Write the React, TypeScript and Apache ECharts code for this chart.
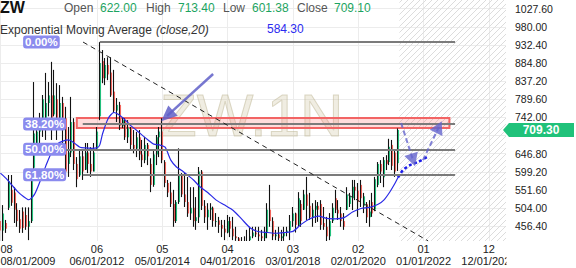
import React, { useEffect, useRef } from 'react';
import * as echarts from 'echarts';

const FONT = '"Liberation Sans", Arial, sans-serif';

const symbolName = 'ZW';
const watermarkText = 'ZW.1N';
const indicatorName = 'Exponential Moving Average';
const indicatorParams = '(close,20)';

// monthly bars, index 0 = 08/2009
const opens = [
  470, 445, 465, 505, 552, 545, 500, 475, 495, 486,
  455, 470, 610, 665, 705, 730, 725, 780, 800, 750,
  790, 720, 780, 740, 620, 650, 730, 620, 590, 640,
  605, 650, 620, 600, 660, 745, 890, 845, 880, 860,
  810, 760, 775, 720, 735, 690, 715, 670, 660, 690,
  645, 630, 670, 620, 565, 645, 690, 705, 625, 570,
  545, 515, 470, 520, 590, 540, 520, 490, 505, 470,
  480, 600, 510, 480, 500, 505, 470, 472, 460, 450,
  440, 470, 450, 430, 425, 410, 405, 415, 420, 430,
  440, 435, 430, 425, 440, 500, 470, 430, 435, 425,
  430, 440, 445, 470, 490, 460, 515, 500, 540, 510,
  480, 500, 510, 515, 465, 455, 430, 470, 530, 500,
  490, 470, 500, 515, 530, 560, 550, 565, 510, 515,
  480, 520, 500, 565, 620, 585, 630, 625, 670, 650,
  622.0,
];
const highs = [
  552, 512, 473, 591, 591, 559, 517, 499, 506, 506,
  506, 604, 835, 735, 754, 801, 859, 835, 888, 867,
  832, 827, 796, 770, 717, 796, 740, 638, 657, 657,
  675, 675, 664, 675, 717, 940, 919, 898, 900, 900,
  867, 793, 783, 743, 740, 735, 717, 709, 704, 709,
  683, 691, 675, 635, 657, 696, 717, 740, 630, 578,
  573, 552, 525, 661, 596, 596, 586, 559, 559, 533,
  612, 604, 525, 517, 517, 508, 491, 481, 473, 473,
  486, 481, 481, 455, 428, 428, 430, 447, 455, 455,
  455, 455, 447, 455, 517, 565, 480, 447, 455, 447,
  455, 455, 486, 507, 492, 546, 525, 552, 586, 544,
  517, 525, 520, 525, 507, 481, 491, 517, 552, 525,
  507, 491, 559, 544, 578, 578, 570, 578, 544, 520,
  525, 544, 586, 625, 630, 638, 643, 686, 683, 657,
  713.4,
];
const lows = [
  410, 410, 439, 499, 510, 465, 455, 439, 439, 447,
  420, 465, 596, 648, 675, 691, 683, 745, 683, 745,
  683, 717, 675, 586, 586, 638, 604, 559, 586, 578,
  604, 596, 586, 600, 657, 735, 832, 827, 840, 796,
  754, 730, 709, 714, 683, 675, 657, 648, 638, 630,
  612, 622, 617, 546, 560, 617, 638, 622, 559, 533,
  507, 455, 465, 515, 533, 507, 481, 473, 455, 447,
  465, 499, 465, 447, 473, 455, 455, 439, 428, 420,
  438, 428, 420, 418, 400, 395, 395, 405, 410, 425,
  428, 410, 410, 415, 425, 455, 420, 420, 415, 415,
  418, 430, 420, 455, 440, 455, 455, 499, 473, 473,
  455, 465, 468, 447, 447, 410, 420, 465, 491, 473,
  455, 447, 499, 507, 499, 525, 481, 507, 491, 465,
  455, 481, 496, 559, 570, 559, 604, 617, 604, 586,
  601.38,
];
const closes = [
  445, 490, 450, 575, 518, 500, 470, 450, 452, 455,
  470, 600, 700, 705, 730, 790, 780, 800, 730, 800,
  720, 780, 735, 600, 650, 730, 620, 580, 640, 600,
  650, 620, 600, 650, 705, 885, 845, 880, 855, 800,
  760, 775, 720, 735, 690, 715, 670, 660, 690, 645,
  630, 670, 640, 565, 645, 690, 705, 630, 570, 545,
  515, 470, 520, 590, 540, 520, 490, 505, 470, 480,
  600, 510, 480, 500, 505, 470, 472, 460, 450, 440,
  470, 450, 430, 425, 410, 405, 415, 420, 430, 440,
  435, 430, 425, 440, 500, 470, 430, 435, 425, 430,
  440, 445, 470, 490, 460, 530, 470, 540, 510, 480,
  500, 510, 500, 460, 455, 430, 470, 505, 500, 490,
  470, 455, 540, 535, 560, 550, 520, 530, 535, 480,
  495, 490, 580, 620, 600, 630, 620, 665, 615, 600,
  709.1,
];

// EMA(20)
const emaMonths = [0, 2, 4, 6, 8, 10, 12, 14, 16, 18, 20, 22, 24, 26, 28, 30, 32, 34, 35, 36, 38, 40, 42, 44, 46, 48, 50, 52, 54, 56, 58, 60, 62, 64, 66, 68, 70, 73, 76, 79, 82, 85, 88, 91, 94, 97, 100, 103, 106, 109, 112, 115, 118, 121, 124, 127, 130, 133, 135, 137, 139, 140];
const emaValues = [596, 582, 565, 548, 535, 526, 540, 575, 615, 650, 672, 680, 683, 675, 664, 662, 661, 662, 670, 700, 740, 755, 748, 735, 720, 708, 695, 683, 672, 670, 664, 630, 612, 602, 590, 578, 562, 545, 525, 512, 498, 475, 452, 442, 440, 438, 440, 443, 462, 476, 483, 477, 476, 479, 494, 503, 506, 514, 525, 545, 570, 584.3];

// projected EMA (dotted)
const projMonths = [140, 141.8, 144.2, 147, 150.2];
const projValues = [584.3, 604, 617, 625, 638];

// Fibonacci retracement
const fibHigh = 940.2;
const fibLow = 376.6;
const fibRatios = [0, 0.382, 0.5, 0.618];
const fibStartMonths = [35, 29, 21, 29];
const fibEndMonth = 160.1;
const fibLabelMonth = 8;

// annotations (data coordinates: month index, price)
const boxFromMonth = 26.9;
const boxToMonth = 158.1;
const boxTop = 740.5;
const boxBottom = 714.3;
const trendLine = [[29.1, 940], [150.6, 418]];
const mainArrow = [[74.9, 856], [58.7, 746]];
const downArrow = [[141.1, 727.5], [145.3, 630]];
const upArrow = [[148.8, 630], [154.4, 717]];
const futureStartMonth = 140.5;

const xTickMonths = [0, 34, 57, 80, 103, 126, 149, 172];
const xTickTop = ['08', '06', '05', '04', '03', '02', '01', '12'];
const xTickBottom = ['08/01/2009', '06/01/2012', '05/01/2014', '04/01/2016', '03/01/2018', '02/01/2020', '01/01/2022', '12/01/2023'];

const yTicks = [456.4, 504.0, 551.6, 599.2, 646.8, 694.4, 742.0, 789.6, 837.2, 884.8, 932.4, 980.0, 1027.6];
const yLabelTicks = [456.4, 504.0, 551.6, 599.2, 646.8, 742.0, 789.6, 837.2, 884.8, 932.4, 980.0, 1027.6];
const lastPriceLabel = 709.3;

const X_MIN = -0.14;
const X_MAX = 178.03;
const Y_MIN = 417.7;
const Y_MAX = 1050.4;

const UP = '#22c07c';
const DOWN = '#f2645c';

export default function App() {
  const ref = useRef<HTMLDivElement>(null);

  useEffect(() => {
    if (!ref.current) return;
    const chart = echarts.init(ref.current, null, { renderer: 'svg', width: 576, height: 268 });

    const candleData = opens.map((o, i) => [i, o, closes[i], lows[i], highs[i]]);
    const emaData = emaMonths.map((m, i) => [m, emaValues[i]]);
    const projData = projMonths.map((m, i) => [m, projValues[i]]);
    const fibVal = (r: number) => fibHigh - r * (fibHigh - fibLow);

    const hatch = document.createElement('canvas');
    hatch.width = 6;
    hatch.height = 6;
    const g = hatch.getContext('2d');
    if (g) {
      g.strokeStyle = '#dcdcdc';
      g.lineWidth = 1;
      g.beginPath();
      g.moveTo(0, 6); g.lineTo(6, 0);
      g.moveTo(-1, 1); g.lineTo(1, -1);
      g.moveTo(5, 7); g.lineTo(7, 5);
      g.stroke();
    }

    const renderCandle = (params: any, api: any) => {
      const m = api.value(0);
      const o = api.value(1);
      const c = api.value(2);
      const l = api.value(3);
      const h = api.value(4);
      const cs = params.coordSys;
      const top = cs.y;
      const bottom = cs.y + cs.height;
      const cl = (y: number) => Math.min(bottom, Math.max(top, y));
      const pH = api.coord([m, h]);
      const pL = api.coord([m, l]);
      const pO = api.coord([m, o]);
      const pC = api.coord([m, c]);
      const xr = Math.round(pH[0]);
      const up = c >= o;
      const y1 = cl(pO[1]);
      let y2 = cl(pC[1]);
      if (Math.abs(y1 - y2) < 1) { y2 = y1 + 1; }
      return {
        type: 'group',
        children: [
          { type: 'line', shape: { x1: xr - 0.5, y1: cl(pH[1]), x2: xr - 0.5, y2: cl(pL[1]) }, style: { stroke: '#111', lineWidth: 1.1 } },
          { type: 'line', shape: { x1: xr + 0.5, y1, x2: xr + 0.5, y2 }, style: { stroke: up ? UP : DOWN, lineWidth: 1.1 } },
        ],
      };
    };

    const fibLines = fibRatios.map((r, i) => [
      { coord: [fibStartMonths[i], fibVal(r)], symbol: 'none', lineStyle: { color: '#7b7b7b', width: 2, type: 'solid' } },
      { coord: [fibEndMonth, fibVal(r)], symbol: 'none' },
    ]);

    const option: any = {
      animation: false,
      textStyle: { fontFamily: FONT },
      grid: { left: 0, right: 70, top: 0, bottom: 27, containLabel: false, outerBoundsMode: 'none' },
      xAxis: {
        type: 'value',
        min: X_MIN,
        max: X_MAX,
        axisLine: { show: false },
        axisTick: { show: false, customValues: xTickMonths },
        splitLine: { show: true, lineStyle: { color: '#ececec', width: 1 } },
        axisLabel: {
          customValues: xTickMonths,
          alignMinLabel: 'left',
          margin: 2,
          fontSize: 11,
          lineHeight: 12,
          color: '#222',
          fontFamily: FONT,
          formatter: (v: number) => {
            const i = xTickMonths.indexOf(Math.round(v));
            return i < 0 ? '' : xTickTop[i] + '\n' + xTickBottom[i];
          },
        },
      },
      yAxis: {
        type: 'value',
        position: 'right',
        min: Y_MIN,
        max: Y_MAX,
        scale: true,
        axisLine: { show: false },
        axisTick: { show: false, customValues: yTicks },
        splitLine: { show: true, lineStyle: { color: '#ececec', width: 1 } },
        axisLabel: {
          customValues: yLabelTicks,
          margin: 9,
          fontSize: 10.5,
          color: '#222',
          fontFamily: FONT,
          formatter: (v: number) => v.toFixed(2),
        },
      },
      series: [
        {
          type: 'line',
          name: 'zones',
          data: [],
          z: 1,
          silent: true,
          markArea: {
            silent: true,
            data: [
              [
                { xAxis: futureStartMonth, itemStyle: { color: { image: hatch, repeat: 'repeat' }, borderWidth: 0 } },
                { xAxis: X_MAX },
              ],
              [
                { coord: [boxFromMonth, boxTop], itemStyle: { color: 'rgba(255,95,95,0.22)', borderColor: '#f26464', borderWidth: 2 } },
                { coord: [boxToMonth, boxBottom] },
              ],
            ],
          },
        },
        {
          type: 'custom',
          name: symbolName,
          renderItem: renderCandle,
          data: candleData,
          encode: { x: 0, y: [1, 2, 3, 4] },
          clip: true,
          z: 2,
          silent: true,
        },
        {
          type: 'line',
          name: indicatorName,
          data: emaData,
          showSymbol: false,
          smooth: 0.25,
          lineStyle: { color: '#2a2ae6', width: 1.2 },
          z: 3,
          silent: true,
        },
        {
          type: 'line',
          name: 'projection',
          data: projData,
          showSymbol: false,
          smooth: 0.3,
          lineStyle: { color: '#1c1ce8', width: 2.5, type: [3, 2.5] },
          z: 4,
          silent: true,
        },
        {
          type: 'line',
          name: 'drawings',
          data: [],
          z: 4,
          silent: true,
          markLine: {
            silent: true,
            symbol: ['none', 'none'],
            label: { show: false },
            data: [
              ...fibLines,
              [
                { coord: trendLine[0], symbol: 'none', lineStyle: { color: '#222', width: 1, type: [5, 4] } },
                { coord: trendLine[1], symbol: 'none' },
              ],
              [
                { coord: mainArrow[0], symbol: 'none', lineStyle: { color: 'rgba(95,95,200,0.85)', width: 2.5, type: 'solid' } },
                { coord: mainArrow[1], symbol: 'triangle', symbolSize: [14, 16], itemStyle: { color: 'rgba(95,95,200,0.85)' } },
              ],
              [
                { coord: downArrow[0], symbol: 'none', lineStyle: { color: 'rgba(100,100,205,0.8)', width: 2, type: [5, 3] } },
                { coord: downArrow[1], symbol: 'triangle', symbolSize: [14, 13], itemStyle: { color: 'rgba(100,100,205,0.8)' } },
              ],
              [
                { coord: upArrow[0], symbol: 'none', lineStyle: { color: 'rgba(100,100,205,0.8)', width: 2, type: [5, 3] } },
                { coord: upArrow[1], symbol: 'triangle', symbolSize: [14, 13], itemStyle: { color: 'rgba(100,100,205,0.8)' } },
              ],
            ],
          },
        },
      ],
    };

    chart.setOption(option);

    const toPx = (m: number, v: number) => chart.convertToPixel({ gridIndex: 0 } as any, [m, v]) as number[];
    const yc = toPx(0, lastPriceLabel)[1];
    const last = opens.length - 1;
    const txt = (text: string, x: number, y: number, fill: string, font: string) => ({
      type: 'text',
      x,
      y,
      z: 20,
      silent: true,
      style: { text, fill, font, verticalAlign: 'middle', textVerticalAlign: 'middle', align: 'left', textAlign: 'left' },
    });
    const f12 = '12px ' + FONT;
    const gray = '#555';
    const green = '#1ca461';

    const fibBadges = fibRatios.map((r) => {
      const p = toPx(fibLabelMonth, fibVal(r));
      return {
        type: 'text',
        x: p[0],
        y: p[1],
        z: 22,
        silent: true,
        style: {
          text: (r * 100).toFixed(2) + '%',
          fill: '#ffffff',
          font: 'bold 11.5px ' + FONT,
          backgroundColor: '#8b8bee',
          borderRadius: 3,
          padding: [1, 2, 0, 2],
          lineHeight: 12,
          align: 'left',
          textAlign: 'left',
          verticalAlign: 'middle',
          textVerticalAlign: 'middle',
        },
      };
    });

    chart.setOption({
      graphic: [
        {
          type: 'text',
          x: 160,
          y: 115,
          z: 0,
          silent: true,
          style: {
            text: watermarkText,
            font: '60px ' + FONT,
            fill: 'rgba(205,195,160,0.3)',
            stroke: 'rgba(180,170,135,0.45)',
            lineWidth: 1,
            verticalAlign: 'middle',
            textVerticalAlign: 'middle',
          },
        },
        { type: 'rect', z: 15, silent: true, shape: { x: 506.5, y: 242, width: 70, height: 26 }, style: { fill: '#fff' } },
        txt(symbolName, 0, 7, '#111', 'bold 16px ' + FONT),
        txt('Open', 64, 8, gray, f12),
        txt(opens[last].toFixed(2), 100, 8, green, f12),
        txt('High', 146, 8, gray, f12),
        txt(highs[last].toFixed(2), 178, 8, green, f12),
        txt('Low', 223, 8, gray, f12),
        txt(lows[last].toFixed(2), 252, 8, green, f12),
        txt('Close', 297, 8, gray, f12),
        txt(closes[last].toFixed(2), 334, 8, green, f12),
        txt(indicatorName, 0, 30, '#333', f12),
        txt(indicatorParams, 156, 30, '#333', 'italic 12px ' + FONT),
        txt(emaValues[emaValues.length - 1].toFixed(2), 267, 29, '#2b2bf0', f12),
        ...fibBadges,
        {
          type: 'polygon',
          z: 20,
          silent: true,
          shape: { points: [[503, yc], [509, yc - 7], [574, yc - 7], [574, yc + 7], [509, yc + 7]] },
          style: { fill: '#20c27a' },
        },
        {
          type: 'text',
          x: 541,
          y: yc,
          z: 21,
          silent: true,
          style: { text: lastPriceLabel.toFixed(2), fill: '#fff', font: 'bold 12px ' + FONT, align: 'center', textAlign: 'center', verticalAlign: 'middle', textVerticalAlign: 'middle' },
        },
      ],
    });

    return () => chart.dispose();
  }, []);

  return <div ref={ref} style={{ position: 'absolute', left: 0, top: 0, width: 576, height: 268 }} />;
}
